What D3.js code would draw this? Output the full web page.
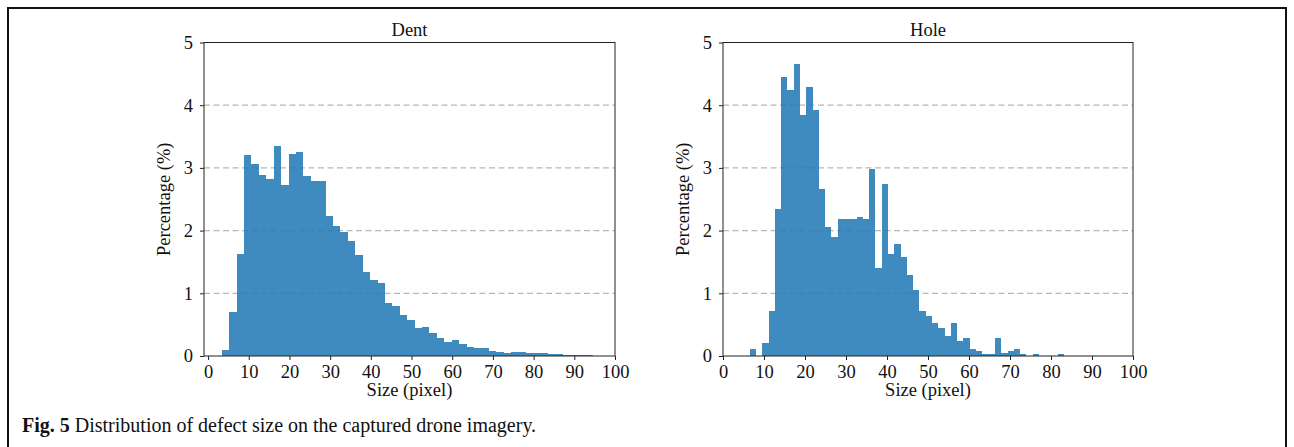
<!DOCTYPE html>
<html><head><meta charset="utf-8">
<script src="https://cdn.jsdelivr.net/npm/d3@7/dist/d3.min.js"></script>
<style>body{margin:0;background:#fff} svg{display:block}</style>
</head><body><svg id="c" width="1294" height="447"></svg>
<script>
// ---- data (percent per bin, 50 equal-width bins) ----
const dentValues = [0.09,0.70,1.62,3.21,3.07,2.89,2.83,3.35,2.72,3.22,
  3.26,2.87,2.79,2.79,2.24,2.08,1.98,1.84,1.61,1.34,
  1.22,1.16,0.84,0.80,0.65,0.57,0.44,0.46,0.36,0.29,
  0.23,0.25,0.19,0.14,0.12,0.12,0.085,0.07,0.05,0.06,
  0.07,0.04,0.04,0.04,0.025,0.025,0.02,0.02,0.02,0.02];
const holeValues = [0.11,0,0.20,0.72,2.34,4.45,4.25,4.66,3.84,4.29,
  3.92,2.66,2.06,1.90,2.18,2.18,2.18,2.21,2.18,2.99,
  1.41,2.74,1.62,1.78,1.58,1.29,1.05,0.72,0.64,0.52,
  0.44,0.32,0.52,0.24,0.28,0.11,0.075,0.037,0.037,0.28,
  0.04,0.075,0.11,0.035,0,0.035,0,0,0,0.035];
const dentRange = [3.37, 94.5];
const holeRange = [6.5, 83.2];
const xTicks = [0,10,20,30,40,50,60,70,80,90,100];
const yTicks = [0,1,2,3,4,5];
const gridTicks = [1,2,3,4];
const titles = ["Dent","Hole"];
const xLabel = "Size (pixel)";
const yLabel = "Percentage (%)";

const FONT = "'Liberation Serif','Times New Roman',serif";
const FS = 18.5;
const svg = d3.select("#c");
svg.append("rect").attr("x",8).attr("y",8).attr("width",1278).attr("height",460)
  .attr("fill","none").attr("stroke","#111").attr("stroke-width",2);

const panels = [
  {title:titles[0], values:dentValues, range:dentRange, xd:[-1,100], left:204, right:615},
  {title:titles[1], values:holeValues, range:holeRange, xd:[0,100], left:723, right:1133}
];
const plotTop = 42.5, plotBottom = 356;

panels.forEach(p => {
  const x = d3.scaleLinear().domain(p.xd).range([p.left, p.right]);
  const y = d3.scaleLinear().domain([0,5]).range([plotBottom, plotTop]);
  const g = svg.append("g");
  const n = p.values.length;
  const w = (p.range[1]-p.range[0])/n;
  const bins = p.values.map((v,i)=>({x0:p.range[0]+i*w, x1:p.range[0]+(i+1)*w, v}));

  g.selectAll(".grid").data(gridTicks).join("line")
    .attr("x1",p.left).attr("x2",p.right)
    .attr("y1",d=>y(d)).attr("y2",d=>y(d))
    .attr("stroke","#b8b8b8").attr("stroke-width",1.2).attr("stroke-dasharray","6,3.5");

  g.selectAll(".bar").data(bins.filter(b=>b.v>0)).join("rect")
    .attr("x",d=>x(d.x0)).attr("width",d=>x(d.x1)-x(d.x0))
    .attr("y",d=>y(d.v)).attr("height",d=>y(0)-y(d.v))
    .attr("shape-rendering","crispEdges")
    .attr("fill","#1f77b4").attr("fill-opacity",0.86);

  const ax = g.append("g").attr("transform",`translate(0,${plotBottom})`)
    .call(d3.axisBottom(x).tickValues(xTicks).tickSize(4).tickPadding(5).tickSizeOuter(0));
  const ay = g.append("g").attr("transform",`translate(${p.left},0)`)
    .call(d3.axisLeft(y).tickValues(yTicks).tickFormat(d3.format("d")).tickSize(4).tickPadding(7).tickSizeOuter(0));
  [ax,ay].forEach(a=>{
    a.select(".domain").remove();
    a.selectAll("line").attr("stroke","#222");
    a.selectAll("text").attr("font-family",FONT).attr("font-size",FS).attr("fill","#111");
  });
  g.append("rect").attr("x",p.left).attr("y",plotTop).attr("width",p.right-p.left).attr("height",plotBottom-plotTop)
    .attr("fill","none").attr("stroke","#222").attr("stroke-width",1);

  g.append("text").attr("x",(p.left+p.right)/2).attr("y",36).attr("text-anchor","middle")
    .attr("font-family",FONT).attr("font-size",FS).attr("fill","#111").text(p.title);
  g.append("text").attr("x",(p.left+p.right)/2).attr("y",396).attr("text-anchor","middle")
    .attr("font-family",FONT).attr("font-size",FS).attr("fill","#111").text(xLabel);
  g.append("text").attr("transform",`translate(${p.left-34},${(plotTop+plotBottom)/2}) rotate(-90)`)
    .attr("text-anchor","middle")
    .attr("font-family",FONT).attr("font-size",FS).attr("fill","#111").text(yLabel);
});

const cap = svg.append("text").attr("x",22).attr("y",432)
  .attr("font-family",FONT).attr("font-size",20).attr("fill","#111");
cap.append("tspan").attr("font-weight","bold").text("Fig. 5");
cap.append("tspan").text(" Distribution of defect size on the captured drone imagery.");
</script></body></html>
